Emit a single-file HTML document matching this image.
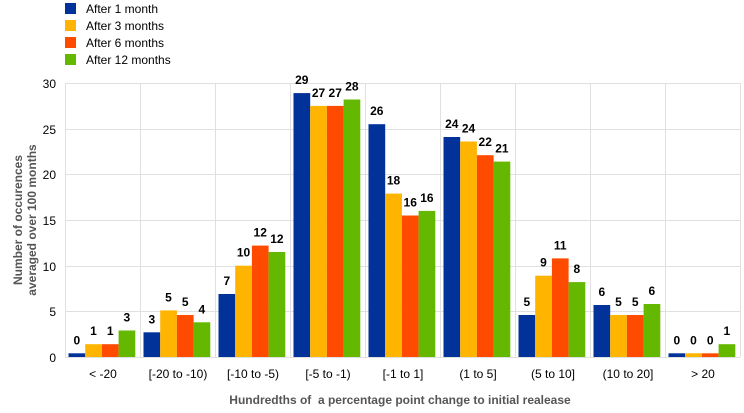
<!DOCTYPE html>
<html><head><style>
body{margin:0;background:#fff;}
svg text{font-family:"Liberation Sans",Arial,sans-serif;}
</style></head><body>
<svg width="744" height="408" xmlns="http://www.w3.org/2000/svg">
<g font-size="12" fill="#000">
<rect x="65" y="3" width="11" height="11" fill="#003299"/><text x="86" y="13">After 1 month</text>
<rect x="65" y="20" width="11" height="11" fill="#FFB400"/><text x="86" y="30">After 3 months</text>
<rect x="65" y="37" width="11" height="11" fill="#FF4B00"/><text x="86" y="47">After 6 months</text>
<rect x="65" y="54" width="11" height="11" fill="#65B800"/><text x="86" y="64">After 12 months</text>
</g>
<g stroke="#e0e0e0" stroke-width="1">
<line x1="65" y1="83.5" x2="740" y2="83.5"/>
<line x1="65" y1="129.5" x2="740" y2="129.5"/>
<line x1="65" y1="174.5" x2="740" y2="174.5"/>
<line x1="65" y1="220.5" x2="740" y2="220.5"/>
<line x1="65" y1="266.5" x2="740" y2="266.5"/>
<line x1="65" y1="311.5" x2="740" y2="311.5"/>
<line x1="65" y1="357.5" x2="740" y2="357.5"/>
<line x1="65.5" y1="83" x2="65.5" y2="357"/>
<line x1="140.5" y1="83" x2="140.5" y2="357"/>
<line x1="215.5" y1="83" x2="215.5" y2="357"/>
<line x1="290.5" y1="83" x2="290.5" y2="357"/>
<line x1="365.5" y1="83" x2="365.5" y2="357"/>
<line x1="440.5" y1="83" x2="440.5" y2="357"/>
<line x1="515.5" y1="83" x2="515.5" y2="357"/>
<line x1="590.5" y1="83" x2="590.5" y2="357"/>
<line x1="665.5" y1="83" x2="665.5" y2="357"/>
<line x1="740.5" y1="83" x2="740.5" y2="357"/>
</g>
<g font-size="12" fill="#000" text-anchor="end">
<text x="56" y="88">30</text><text x="56" y="134">25</text><text x="56" y="179">20</text>
<text x="56" y="225">15</text><text x="56" y="271">10</text><text x="56" y="316">5</text><text x="56" y="362">0</text>
</g>
<g font-size="12" font-weight="bold" fill="#555" text-anchor="middle">
<text transform="translate(22,220) rotate(-90)">Number of occurences</text>
<text transform="translate(36,220) rotate(-90)">averaged over 100 months</text>
<text x="400" y="404">Hundredths of&#160; a percentage point change to initial realease</text>
</g>
<g font-size="12" fill="#000" text-anchor="middle">
<text x="103" y="378">&lt; -20</text><text x="178" y="378">[-20 to -10)</text><text x="253" y="378">[-10 to -5)</text>
<text x="328" y="378">[-5 to -1)</text><text x="403" y="378">[-1 to 1]</text><text x="478" y="378">(1 to 5]</text>
<text x="553" y="378">(5 to 10]</text><text x="628" y="378">(10 to 20]</text><text x="703" y="378">&gt; 20</text>
</g>
<g>
<rect x="68.5" y="353.3" width="16.7" height="3.7" fill="#003299"/>
<rect x="85.2" y="344.2" width="16.7" height="12.8" fill="#FFB400"/>
<rect x="101.9" y="344.2" width="16.7" height="12.8" fill="#FF4B00"/>
<rect x="118.6" y="330.5" width="16.7" height="26.5" fill="#65B800"/>
<rect x="143.5" y="332.3" width="16.7" height="24.7" fill="#003299"/>
<rect x="160.2" y="310.4" width="16.7" height="46.6" fill="#FFB400"/>
<rect x="176.9" y="315" width="16.7" height="42" fill="#FF4B00"/>
<rect x="193.6" y="322.3" width="16.7" height="34.7" fill="#65B800"/>
<rect x="218.5" y="294" width="16.7" height="63" fill="#003299"/>
<rect x="235.2" y="265.7" width="16.7" height="91.3" fill="#FFB400"/>
<rect x="251.9" y="245.6" width="16.7" height="111.4" fill="#FF4B00"/>
<rect x="268.6" y="252" width="16.7" height="105" fill="#65B800"/>
<rect x="293.5" y="93.1" width="16.7" height="263.9" fill="#003299"/>
<rect x="310.2" y="105.9" width="16.7" height="251.1" fill="#FFB400"/>
<rect x="326.9" y="105.9" width="16.7" height="251.1" fill="#FF4B00"/>
<rect x="343.6" y="99.5" width="16.7" height="257.5" fill="#65B800"/>
<rect x="368.5" y="124.2" width="16.7" height="232.8" fill="#003299"/>
<rect x="385.2" y="193.6" width="16.7" height="163.4" fill="#FFB400"/>
<rect x="401.9" y="215.5" width="16.7" height="141.5" fill="#FF4B00"/>
<rect x="418.6" y="210.9" width="16.7" height="146.1" fill="#65B800"/>
<rect x="443.5" y="137" width="16.7" height="220" fill="#003299"/>
<rect x="460.2" y="141.5" width="16.7" height="215.5" fill="#FFB400"/>
<rect x="476.9" y="155.2" width="16.7" height="201.8" fill="#FF4B00"/>
<rect x="493.6" y="161.6" width="16.7" height="195.4" fill="#65B800"/>
<rect x="518.5" y="315" width="16.7" height="42" fill="#003299"/>
<rect x="535.2" y="275.7" width="16.7" height="81.3" fill="#FFB400"/>
<rect x="551.9" y="258.4" width="16.7" height="98.6" fill="#FF4B00"/>
<rect x="568.6" y="282.1" width="16.7" height="74.9" fill="#65B800"/>
<rect x="593.5" y="305" width="16.7" height="52" fill="#003299"/>
<rect x="610.2" y="315" width="16.7" height="42" fill="#FFB400"/>
<rect x="626.9" y="315" width="16.7" height="42" fill="#FF4B00"/>
<rect x="643.6" y="304" width="16.7" height="53" fill="#65B800"/>
<rect x="668.5" y="353.3" width="16.7" height="3.7" fill="#003299"/>
<rect x="685.2" y="353.3" width="16.7" height="3.7" fill="#FFB400"/>
<rect x="701.9" y="353.3" width="16.7" height="3.7" fill="#FF4B00"/>
<rect x="718.6" y="344.2" width="16.7" height="12.8" fill="#65B800"/>
</g>
<g font-size="12" font-weight="bold" fill="#000" text-anchor="middle">
<text x="76.8" y="344.3">0</text><text x="93.5" y="335.2">1</text><text x="110.2" y="335.2">1</text><text x="126.9" y="321.5">3</text>
<text x="151.8" y="323.3">3</text><text x="168.5" y="301.4">5</text><text x="185.2" y="306">5</text><text x="201.9" y="313.3">4</text>
<text x="226.8" y="285">7</text><text x="243.5" y="256.7">10</text><text x="260.2" y="236.6">12</text><text x="276.9" y="243">12</text>
<text x="301.8" y="84.1">29</text><text x="318.5" y="96.9">27</text><text x="335.2" y="96.9">27</text><text x="351.9" y="90.5">28</text>
<text x="376.8" y="115.2">26</text><text x="393.5" y="184.6">18</text><text x="410.2" y="206.5">16</text><text x="426.9" y="201.9">16</text>
<text x="451.8" y="128">24</text><text x="468.5" y="132.5">24</text><text x="485.2" y="146.2">22</text><text x="501.9" y="152.6">21</text>
<text x="526.8" y="306">5</text><text x="543.5" y="266.7">9</text><text x="560.2" y="249.4">11</text><text x="576.9" y="273.1">8</text>
<text x="601.8" y="296">6</text><text x="618.5" y="306">5</text><text x="635.2" y="306">5</text><text x="651.9" y="295">6</text>
<text x="676.8" y="344.3">0</text><text x="693.5" y="344.3">0</text><text x="710.2" y="344.3">0</text><text x="726.9" y="335.2">1</text>
</g>
</svg>
</body></html>
